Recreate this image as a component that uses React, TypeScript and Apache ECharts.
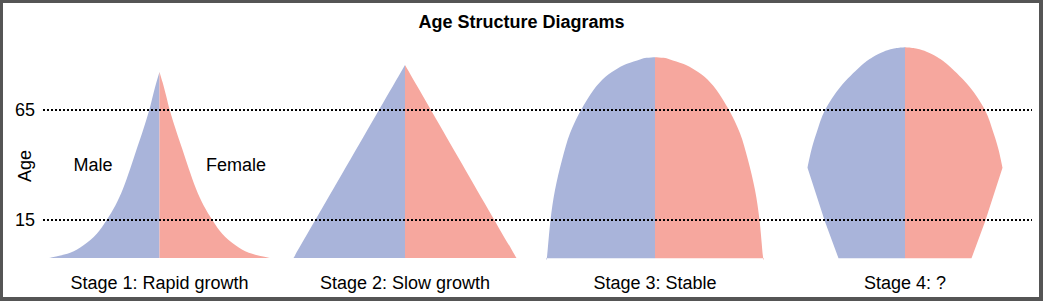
import React, { useEffect, useRef } from "react";
import * as echarts from "echarts";

// ---- Data ----
const chartTitle = "Age Structure Diagrams";
const ageAxisName = "Age";
const stageNames = ["Stage 1: Rapid growth", "Stage 2: Slow growth", "Stage 3: Stable", "Stage 4: ?"];
const sexLabels = ["Male", "Female"];
const ageTicks = [65, 15];

// half-widths (population share units) at given ages, per stage
const stage1Ages = [-2.3, -1.8, 0.1, 3.5, 8.8, 14.9, 21.7, 29.2, 38.3, 47.4, 56.5, 64.9, 71.7, 77.7, 82.3];
const stage1Widths = [111, 106, 89.3, 76, 62.7, 53, 44, 36.5, 29.3, 22.7, 16, 10.3, 6.5, 3, 0];

const stage2Ages = [-2.3, 85.5];
const stage2Widths = [111.5, 0];

const stage3Ages = [-2.4, -1.7, 15, 28.6, 42.3, 54.4, 65, 74.1, 80.1, 84, 86, 88, 88.7, 89];
const stage3Widths = [109, 108, 104.5, 100, 93, 85, 74, 61.5, 49.5, 37, 28, 15, 8.5, 0];

const stage4Ages = [-2.4, 14.2, 38.8, 47, 54.4, 65, 75.6, 84.7, 89, 91.5, 92.6, 93.1, 93.5];
const stage4Widths = [66.5, 80, 97.5, 93.5, 88.6, 80, 64.5, 45, 32.5, 21.5, 14.5, 9.5, 0];

const stageAges = [stage1Ages, stage2Ages, stage3Ages, stage4Ages];
const stageWidths = [stage1Widths, stage2Widths, stage3Widths, stage4Widths];
// index of the point from which the outline is a smooth curve (before it: straight segments)
const stageCorner = [0, 0, 0, 2];

// ---- Styling / layout ----
const BLUE = "#A9B4DA";
const RED = "#F6A79E";
const FONT = "'Liberation Sans', Arial, Helvetica, sans-serif";
const FS = 18;
const stageCenters = [159.5, 405, 655, 905];
const GRID_TOP = 33;
const GRID_H = 231;
const Y_MIN = -5;
const Y_MAX = 100;

function outline(base: number[], pts: number[][], corner: number): string {
  const f = (p: number[]) => `${p[0].toFixed(2)},${p[1].toFixed(2)}`;
  let d = `M${f(base)} L${f(pts[0])}`;
  for (let k = 0; k < pts.length - 1; k++) {
    const p1 = pts[k];
    const p2 = pts[k + 1];
    if (k < corner) {
      d += ` L${f(p2)}`;
      continue;
    }
    const p0 = k - 1 >= corner ? pts[k - 1] : p1;
    const p3 = k + 2 < pts.length ? pts[k + 2] : p2;
    const c1 = [p1[0] + (p2[0] - p0[0]) / 6, p1[1] + (p2[1] - p0[1]) / 6];
    const c2 = [p2[0] - (p3[0] - p1[0]) / 6, p2[1] - (p3[1] - p1[1]) / 6];
    d += ` C${f(c1)} ${f(c2)} ${f(p2)}`;
  }
  return d + " Z";
}

export default function App() {
  const ref = useRef<HTMLDivElement>(null);

  useEffect(() => {
    document.body.style.margin = "0";
    if (!ref.current) return;
    const chart = echarts.init(ref.current, undefined, { renderer: "svg" });

    const grids: any[] = stageCenters.map((c) => ({
      left: c - 120,
      width: 240,
      top: GRID_TOP,
      height: GRID_H,
    }));
    grids.push({ left: 43, right: 11, top: GRID_TOP, height: GRID_H });

    const xAxes: any[] = stageNames.map((name, i) => ({
      type: "value",
      gridIndex: i,
      min: -120,
      max: 120,
      axisLine: { show: false },
      axisTick: { show: false },
      axisLabel: { show: false },
      splitLine: { show: false },
      name,
      nameLocation: "middle",
      nameGap: 19,
      nameTextStyle: { fontSize: FS, color: "#000", fontFamily: FONT, verticalAlign: "middle" },
    }));
    xAxes.push({ type: "value", gridIndex: 4, min: 0, max: 1, show: false });

    const yAxes: any[] = grids.map((_, i) => ({
      type: "value",
      gridIndex: i,
      min: Y_MIN,
      max: Y_MAX,
      show: false,
    }));

    const series: any[] = stageNames.map((_, i) => ({
      type: "custom",
      xAxisIndex: i,
      yAxisIndex: i,
      data: [[0, 0]],
      silent: true,
      z: 2,
      renderItem: (_params: any, api: any) => {
        const ages = stageAges[i];
        const widths = stageWidths[i];
        const base = api.coord([0, ages[0]]);
        const male = ages.map((a, k) => api.coord([-widths[k], a]));
        const female = ages.map((a, k) => api.coord([widths[k], a]));
        return {
          type: "group",
          children: [
            { type: "path", shape: { pathData: outline(base, male, stageCorner[i]) }, style: { fill: BLUE } },
            { type: "path", shape: { pathData: outline(base, female, stageCorner[i]) }, style: { fill: RED } },
          ],
        };
      },
    }));

    series.push({
      type: "line",
      xAxisIndex: 4,
      yAxisIndex: 4,
      data: [],
      z: 10,
      markLine: {
        silent: true,
        symbol: "none",
        animation: false,
        lineStyle: { type: "dotted", color: "#000", width: 2 },
        label: {
          position: "start",
          distance: 8,
          fontSize: FS,
          color: "#000",
          fontFamily: FONT,
          formatter: (p: any) => String(p.value),
        },
        data: ageTicks.map((v) => ({ yAxis: v })),
      },
    });

    chart.setOption({
      animation: false,
      backgroundColor: "#555555",
      textStyle: { fontFamily: FONT },
      title: {
        text: chartTitle,
        left: "center",
        top: 8,
        textStyle: { fontSize: FS, fontWeight: "bold", color: "#000", fontFamily: FONT },
      },
      grid: grids,
      xAxis: xAxes,
      yAxis: yAxes,
      series,
      graphic: [
        { type: "rect", z: -10, shape: { x: 3, y: 3, width: 1036, height: 294 }, style: { fill: "#fff" } },
        {
          type: "text",
          x: 25,
          y: 166,
          rotation: Math.PI / 2,
          style: { text: ageAxisName, fontSize: FS, fill: "#000", align: "center", verticalAlign: "middle", fontFamily: FONT },
        },
        {
          type: "text",
          x: 93,
          y: 165,
          style: { text: sexLabels[0], fontSize: FS, fill: "#000", align: "center", verticalAlign: "middle", fontFamily: FONT },
        },
        {
          type: "text",
          x: 236,
          y: 165,
          style: { text: sexLabels[1], fontSize: FS, fill: "#000", align: "center", verticalAlign: "middle", fontFamily: FONT },
        },
      ],
    });

    return () => chart.dispose();
  }, []);

  return <div ref={ref} style={{ width: 1043, height: 301 }} />;
}
